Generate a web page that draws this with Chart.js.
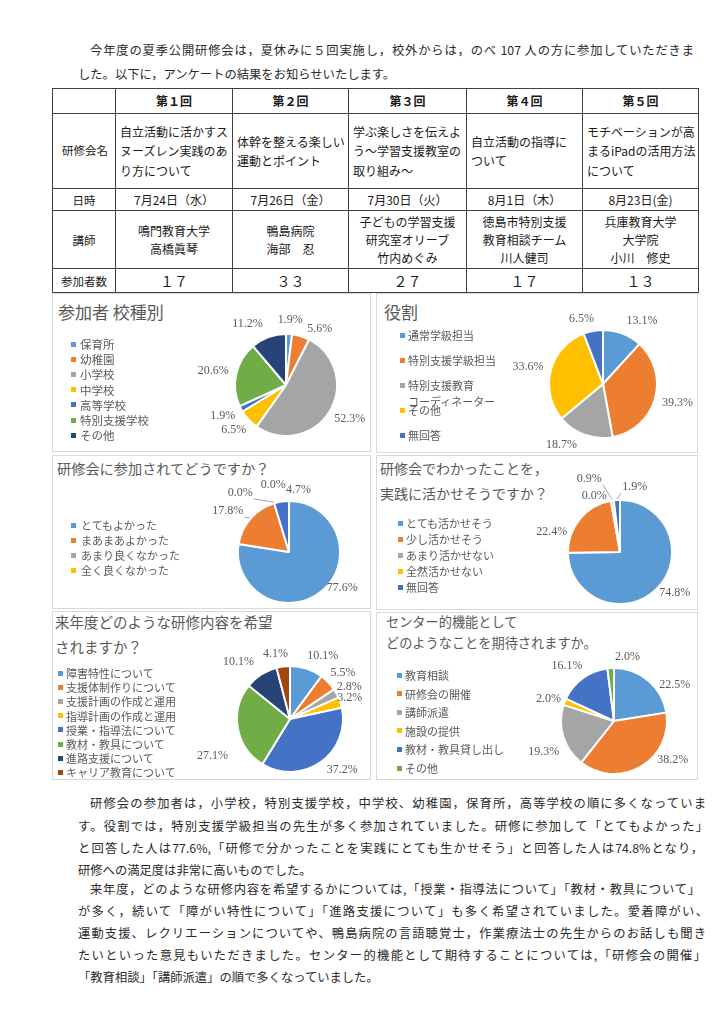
<!DOCTYPE html>
<html lang="ja"><head><meta charset="utf-8">
<script src="https://cdn.jsdelivr.net/npm/chart.js@4.4.1/dist/chart.umd.min.js"></script>
<style>
body{margin:0;background:#fff;}
#page{position:relative;width:724px;height:1024px;overflow:hidden;font-family:"Noto Sans CJK JP","Noto Sans",sans-serif;color:#222;background:#fff;}
.ln{position:absolute;left:78px;width:628px;font-size:12.3px;line-height:18px;height:18px;text-align:justify;text-align-last:justify;color:#2a2a2a;white-space:normal;}
.ln.ind{left:90px;width:616px;}
.ln.last{text-align-last:left;}
table{position:absolute;left:52px;top:88px;border-collapse:collapse;table-layout:fixed;width:646px;}
td{border:1px solid #404040;font-size:12px;padding:0 2px;text-align:center;color:#1a1a1a;line-height:18px;overflow:visible;white-space:nowrap;}
tr.hd td{font-weight:700;height:24px;}
tr.nm td{height:74px;text-align:left;padding-left:4px;padding-right:0;line-height:19.5px;font-size:12px;}
tr.nm td:first-child{text-align:center;padding-left:2px;}
tr.dt td{height:21px;}
tr.sp td{height:57px;}
tr.ct td{height:23px;font-size:14px;}
tr td.rl{font-size:11.5px;text-align:center;}
.panel{position:absolute;border:1px solid #d9d9d9;box-sizing:border-box;background:#fff;}
canvas.pie{position:absolute;}
.ttl{position:absolute;color:#595959;white-space:nowrap;line-height:1;}
.lgi{position:absolute;white-space:pre;color:#595959;font-size:11px;line-height:16px;}
.lgm{position:absolute;width:5px;height:5px;}
</style></head>
<body>
<div id="page">
  <div class="ln ind" style="top:41px;width:604px">今年度の夏季公開研修会は，夏休みに５回実施し，校外からは，のべ 107 人の方に参加していただきま</div>
  <div class="ln last" style="top:65px">した。以下に，アンケートの結果をお知らせいたします。</div>

  <table id="tbl">
    <colgroup><col style="width:63px"><col style="width:117px"><col style="width:116px"><col style="width:118px"><col style="width:116px"><col style="width:116px"></colgroup>
    <tbody id="tbody"></tbody>
  </table>

  <div class="ln ind" style="top:794px">研修会の参加者は，小学校，特別支援学校，中学校、幼稚園，保育所，高等学校の順に多くなっていま</div>
  <div class="ln" style="top:817px;width:630px">す。役割では，特別支援学級担当の先生が多く参加されていました。研修に参加して「とてもよかった」</div>
  <div class="ln" style="top:839px;width:625px">と回答した人は77.6%,「研修で分かったことを実践にとても生かせそう」と回答した人は74.8%となり，</div>
  <div class="ln last" style="top:861px">研修への満足度は非常に高いものでした。</div>
  <div class="ln ind" style="top:880px;width:610px">来年度，どのような研修内容を希望するかについては,「授業・指導法について」「教材・教具について」</div>
  <div class="ln" style="top:902px;width:630px">が多く，続いて「障がい特性について」「進路支援について」も多く希望されていました。愛着障がい、</div>
  <div class="ln" style="top:924px">運動支援、レクリエーションについてや、鴨島病院の言語聴覚士，作業療法士の先生からのお話しも聞き</div>
  <div class="ln" style="top:946px">たいといった意見もいただきました。センター的機能として期待することについては,「研修会の開催」</div>
  <div class="ln last" style="top:968px">「教育相談」「講師派遣」の順で多くなっていました。</div>
</div>

<script>
// ---------- table data ----------
const sessionHeads = ['第１回','第２回','第３回','第４回','第５回'];
const sessionTitles = ['自立活動に活かすス\nヌーズレン実践のあ\nり方について','体幹を整える楽しい\n運動とポイント','学ぶ楽しさを伝えよ\nう～学習支援教室の\n取り組み～','自立活動の指導に\nついて','モチベーションが高\nまるiPadの活用方法\nについて'];
const sessionDates = ['7月24日（水）','7月26日（金）','7月30日（火）','8月1日（木）','8月23日(金)'];
const sessionSpeakers = ['鳴門教育大学\n高橋眞琴','鴨島病院\n海部　忍','子どもの学習支援\n研究室オリーブ\n竹内めぐみ','徳島市特別支援\n教育相談チーム\n川人健司','兵庫教育大学\n大学院\n小川　修史'];
const attendance = [17, 33, 27, 17, 13];

// ---------- chart data ----------
const schoolLabels = ['保育所','幼稚園','小学校','中学校','高等学校','特別支援学校','その他'];
const schoolValues = [1.9, 5.6, 52.3, 6.5, 1.9, 20.6, 11.2];
const roleLabels = ['通常学級担当','特別支援学級担当','特別支援教育\nコーディネーター','その他','無回答'];
const roleValues = [13.1, 39.3, 18.7, 33.6, 6.5];
const joinLabels = ['とてもよかった','まあまあよかった','あまり良くなかった','全く良くなかった','無回答'];
const joinValues = [77.6, 17.8, 0.0, 0.0, 4.7];
const useLabels = ['とても活かせそう','少し活かせそう','あまり活かせない','全然活かせない','無回答'];
const useValues = [74.8, 22.4, 0.0, 0.9, 1.9];
const wishLabels = ['障害特性について','支援体制作りについて','支援計画の作成と運用','指導計画の作成と運用','授業・指導法について','教材・教具について','進路支援について','キャリア教育について'];
const wishValues = [10.1, 5.5, 2.8, 3.2, 37.2, 27.1, 10.1, 4.1];
const centerLabels = ['教育相談','研修会の開催','講師派遣','施設の提供','教材・教具貸し出し','その他'];
const centerValues = [22.5, 38.2, 19.3, 2.0, 16.1, 2.0];

const palette = ['#5B9BD5','#ED7D31','#A5A5A5','#FFC000','#4472C4','#70AD47','#264478','#9E480E'];

// ---------- build table ----------
(function(){
  const tb = document.getElementById('tbody');
  const esc = s => s.replace(/\n/g,'<br>');
  const toFull = n => String(n).replace(/[0-9]/g, d => String.fromCharCode(d.charCodeAt(0)+0xFEE0));
  let h = '<tr class="hd"><td></td>' + sessionHeads.map(s=>'<td>'+s+'</td>').join('') + '</tr>';
  h += '<tr class="nm"><td class="rl">研修会名</td>' + sessionTitles.map(s=>'<td>'+esc(s)+'</td>').join('') + '</tr>';
  h += '<tr class="dt"><td class="rl">日時</td>' + sessionDates.map(s=>'<td>'+s+'</td>').join('') + '</tr>';
  h += '<tr class="sp"><td class="rl">講師</td>' + sessionSpeakers.map(s=>'<td>'+esc(s)+'</td>').join('') + '</tr>';
  h += '<tr class="ct"><td class="rl">参加者数</td>' + attendance.map(n=>'<td>'+toFull(n)+'</td>').join('') + '</tr>';
  tb.innerHTML = h;
})();

// ---------- percentage label plugin ----------
const pctLabels = {
  id: 'pctLabels',
  afterDatasetsDraw(chart, args, opts) {
    const ctx = chart.ctx;
    const meta = chart.getDatasetMeta(0);
    const vals = chart.data.datasets[0].data;
    ctx.save();
    ctx.font = '12px "Liberation Serif", serif';
    ctx.fillStyle = '#595959';
    ctx.textAlign = 'center';
    ctx.textBaseline = 'middle';
    const gap = opts.gap || 8;
    meta.data.forEach((arc, i) => {
      const p = arc.getProps(['x','y','startAngle','endAngle','outerRadius'], true);
      const a = (p.startAngle + p.endAngle) / 2;
      const ux = Math.cos(a), uy = Math.sin(a);
      const txt = Number(vals[i]).toFixed(1) + '%';
      const w = ctx.measureText(txt).width, h = 12;
      const px = p.x + (p.outerRadius + gap) * ux, py = p.y + (p.outerRadius + gap) * uy;
      let cx = px + ux * w / 2, cy = py + uy * h / 2;
      const nd = (opts.nudge || {})[i];
      if (nd) { cx += nd[0]; cy += nd[1]; }
      if ((opts.leader || []).includes(i)) {
        const ex = p.x + (p.outerRadius + 1) * ux, ey = p.y + (p.outerRadius + 1) * uy;
        const bx = Math.max(cx - w/2 - 1, Math.min(ex, cx + w/2 + 1));
        const by = Math.max(cy - h/2, Math.min(ey, cy + h/2));
        ctx.strokeStyle = '#a6a6a6'; ctx.lineWidth = 1;
        ctx.beginPath(); ctx.moveTo(ex, ey); ctx.lineTo(bx, by); ctx.stroke();
      }
      ctx.fillText(txt, cx, cy);
    });
    ctx.restore();
  }
};

// ---------- panel layout (style config) ----------
const panelDefs = [
  { box:[52,293,319,159], labels:schoolLabels, values:schoolValues, cx:286, cy:385, r:51,
    title:['参加者 校種別'], tx:58, ty:[312], tf:17,
    lg:{mx:71, tx:80, y0:344, dy:15.2, n:7, fs:11.5},
    lab:{nudge:{1:[13,6],6:[-13,0]}} },
  { box:[376,293,322,160], labels:roleLabels, values:roleValues, cx:603, cy:384, r:54,
    title:['役割'], tx:384, ty:[312], tf:17,
    lg:{mx:400, tx:408, y0:335, dy:25, n:5, fs:11},
    lab:{nudge:{0:[11,0],2:[-15,-3],4:[-8,2]}} },
  { box:[52,455,319,154], labels:joinLabels, values:joinValues, cx:289, cy:552, r:51,
    title:['研修会に参加されてどうですか？'], tx:57, ty:[469], tf:14.2,
    lg:{mx:71, tx:81, y0:525, dy:15, n:4, fs:11},
    lab:{nudge:{0:[5,-14],1:[-5,2],2:[-28,3],3:[5,-5],4:[20,2]}, leader:[1,2]} },
  { box:[376,455,322,155], labels:useLabels, values:useValues, cx:620, cy:552, r:52,
    title:['研修会でわかったことを，','実践に活かせそうですか？'], tx:380, ty:[469,494], tf:14,
    lg:{mx:398, tx:406, y0:523, dy:16, n:5, fs:11},
    lab:{nudge:{0:[1,-6],1:[-10,22],2:[-13,9],3:[-20,-8],4:[19,1]}, leader:[3,4]} },
  { box:[52,611,319,169], labels:wishLabels, values:wishValues, cx:290, cy:719, r:53,
    title:['来年度どのような研修内容を希望','されますか？'], tx:55, ty:[623,648], tf:14.5,
    lg:{mx:58, tx:66, y0:673, dy:14.2, n:8, fs:11},
    lab:{nudge:{0:[9,1],2:[-5,0],3:[-10,0],4:[8,-4],5:[-2,25],6:[-10,-1],7:[-5,1]}} },
  { box:[376,612,322,168], labels:centerLabels, values:centerValues, cx:614, cy:721, r:53,
    title:['センター的機能として','どのようなことを期待されますか。'], tx:386, ty:[622,643], tf:13.2,
    lg:{mx:397, tx:405, y0:675, dy:18.6, n:6, fs:11},
    lab:{nudge:{0:[11,15],1:[20,-19],2:[3,11],3:[3,2],4:[-2,-1],5:[18,3]}} }
];

const page = document.getElementById('page');
panelDefs.forEach((d, k) => {
  const [L, T, W, H] = d.box;
  const pn = document.createElement('div');
  pn.className = 'panel';
  Object.assign(pn.style, {left:L+'px', top:T+'px', width:W+'px', height:H+'px'});
  page.appendChild(pn);

  d.title.forEach((t, j) => {
    const e = document.createElement('div');
    e.className = 'ttl';
    e.textContent = t;
    Object.assign(e.style, {left:d.tx+'px', top:(d.ty[j] - d.tf*0.55)+'px', fontSize:d.tf+'px'});
    page.appendChild(e);
  });

  const cv = document.createElement('canvas');
  cv.className = 'pie';
  cv.width = W; cv.height = H;
  Object.assign(cv.style, {left:L+'px', top:T+'px', width:W+'px', height:H+'px'});
  page.appendChild(cv);
  const ccx = d.cx - L, ccy = d.cy - T, s = d.r + 3;
  const colors = palette.slice(0, d.values.length);
  const chart = new Chart(cv, {
    type: 'pie',
    data: { labels: d.labels, datasets: [{ data: d.values, backgroundColor: colors, borderColor: '#ffffff', borderWidth: 2 }] },
    options: {
      responsive: false, animation: false, radius: d.r, rotation: 0,
      layout: { padding: { left: ccx - s, right: W - ccx - s, top: ccy - s, bottom: H - ccy - s } },
      plugins: { legend: { display: false }, tooltip: { enabled: false }, title: { display: false }, pctLabels: d.lab }
    },
    plugins: [pctLabels]
  });

  const lg = d.lg;
  chart.data.labels.slice(0, lg.n).forEach((lab, i) => {
    const y = lg.y0 + i * lg.dy;
    const m = document.createElement('div');
    m.className = 'lgm';
    Object.assign(m.style, {left:lg.mx+'px', top:(y-2.5)+'px', background:chart.data.datasets[0].backgroundColor[i]});
    page.appendChild(m);
    const t = document.createElement('div');
    t.className = 'lgi';
    t.textContent = lab;
    Object.assign(t.style, {left:lg.tx+'px', top:(y-8)+'px', fontSize:lg.fs+'px'});
    page.appendChild(t);
  });
});
</script>
</body></html>
